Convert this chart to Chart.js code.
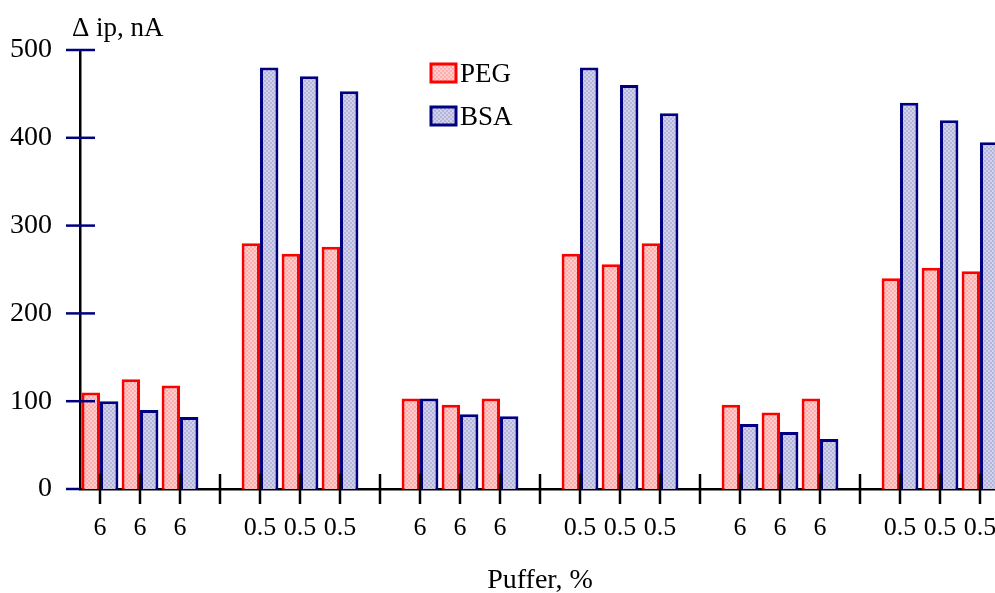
<!DOCTYPE html>
<html>
<head>
<meta charset="utf-8">
<script src="https://cdn.jsdelivr.net/npm/chart.js@4"></script>
<style>
  html, body { margin: 0; padding: 0; background: #fff; overflow: hidden; }
  canvas { display: block; }
</style>
</head>
<body>
<canvas id="chart" width="1000" height="593"></canvas>
<script>
// data
const categories = ['6','6','6','', '0.5','0.5','0.5','', '6','6','6','', '0.5','0.5','0.5','', '6','6','6','', '0.5','0.5','0.5'];
const pegValues = [110, 125, 118, null, 280, 268, 276, null, 103, 96, 103, null, 268, 256, 280, null, 96, 87, 103, null, 240, 252, 248];
const bsaValues = [100, 90, 82, null, 480, 470, 453, null, 103, 85, 83, null, 480, 460, 428, null, 74, 65, 57, null, 440, 420, 395];
const yTicks = [0, 100, 200, 300, 400, 500];

const FONT = '"Liberation Serif", "Times New Roman", serif';

// gestippelde vulling zoals in het origineel
function makePattern(c1, c2) {
    const p = document.createElement('canvas');
    p.width = 4; p.height = 4;
    const pc = p.getContext('2d');
    pc.fillStyle = c1;
    pc.fillRect(0, 0, 4, 4);
    pc.fillStyle = c2;
    pc.fillRect(0, 0, 2, 2);
    pc.fillRect(2, 2, 2, 2);
    return document.getElementById('chart').getContext('2d').createPattern(p, 'repeat');
}

const pegFill = makePattern('rgb(255,205,205)', 'rgb(255,172,172)');
const bsaFill = makePattern('rgb(210,210,236)', 'rgb(180,180,218)');

const axisMarks = {
    id: 'axisMarks',
    afterDatasetsDraw(chart) {
        const ctx = chart.ctx;
        const x = chart.scales.x, y = chart.scales.y;
        const y0 = y.getPixelForValue(0);
        const left = chart.chartArea.left;
        ctx.save();
        // y-ticks (donkerblauw)
        ctx.strokeStyle = '#000080';
        ctx.lineWidth = 2.5;
        yTicks.forEach(v => {
            const py = y.getPixelForValue(v);
            ctx.beginPath();
            ctx.moveTo(left - 14, py);
            ctx.lineTo(v === 0 ? left : left + 15, py);
            ctx.stroke();
        });
        // x-ticks (zwart, door de as heen)
        ctx.strokeStyle = '#000';
        categories.forEach((c, i) => {
            const px = x.getPixelForTick(i);
            ctx.beginPath();
            ctx.moveTo(px, y0 - 15);
            ctx.lineTo(px, y0 + 15);
            ctx.stroke();
        });
        // legenda
        ctx.font = '27px ' + FONT;
        ctx.textBaseline = 'alphabetic';
        ctx.textAlign = 'left';
        chart.data.datasets.forEach((ds, i) => {
            const by = 64 + i * 43;
            ctx.fillStyle = ds.backgroundColor;
            ctx.fillRect(431, by, 25, 18);
            ctx.strokeStyle = ds.borderColor;
            ctx.lineWidth = 3;
            ctx.strokeRect(431, by, 25, 18);
            ctx.fillStyle = '#000';
            ctx.fillText(ds.label, 460, by + 18);
        });
        // y-as titel
        ctx.fillText('\u0394 ip, nA', 72, 36);
        ctx.restore();
    }
};

new Chart(document.getElementById('chart'), {
    type: 'bar',
    data: {
        labels: categories,
        datasets: [
            {
                label: 'PEG',
                data: pegValues,
                backgroundColor: pegFill,
                borderColor: '#ff0000',
                borderWidth: 3,
                categoryPercentage: 0.92,
                barPercentage: 1.0
            },
            {
                label: 'BSA',
                data: bsaValues,
                backgroundColor: bsaFill,
                borderColor: '#000080',
                borderWidth: 3,
                categoryPercentage: 0.92,
                barPercentage: 1.0
            }
        ]
    },
    options: {
        responsive: false,
        animation: false,
        layout: { padding: { top: 50, right: 0, bottom: 0, left: 0 } },
        scales: {
            x: {
                grid: { display: false, drawTicks: false },
                border: { display: true, color: '#000', width: 2.5 },
                ticks: {
                    color: '#000',
                    padding: 24,
                    maxRotation: 0,
                    autoSkip: false,
                    font: { family: FONT, size: 26 }
                },
                title: {
                    display: true,
                    text: 'Puffer, %',
                    color: '#000',
                    padding: { top: 0, bottom: -4 },
                    font: { family: FONT, size: 28 }
                },
                afterFit: s => { s.height = 104; s.paddingLeft = 0; s.paddingRight = 0; }
            },
            y: {
                min: 0,
                max: 500,
                grid: { display: false, drawTicks: false },
                border: { display: true, color: '#000', width: 2.5 },
                ticks: {
                    stepSize: 100,
                    color: '#000',
                    padding: 28,
                    font: { family: FONT, size: 28 }
                },
                afterFit: s => { s.width = 80; }
            }
        },
        plugins: {
            legend: { display: false },
            tooltip: { enabled: false }
        }
    },
    plugins: [axisMarks]
});
</script>
</body>
</html>
